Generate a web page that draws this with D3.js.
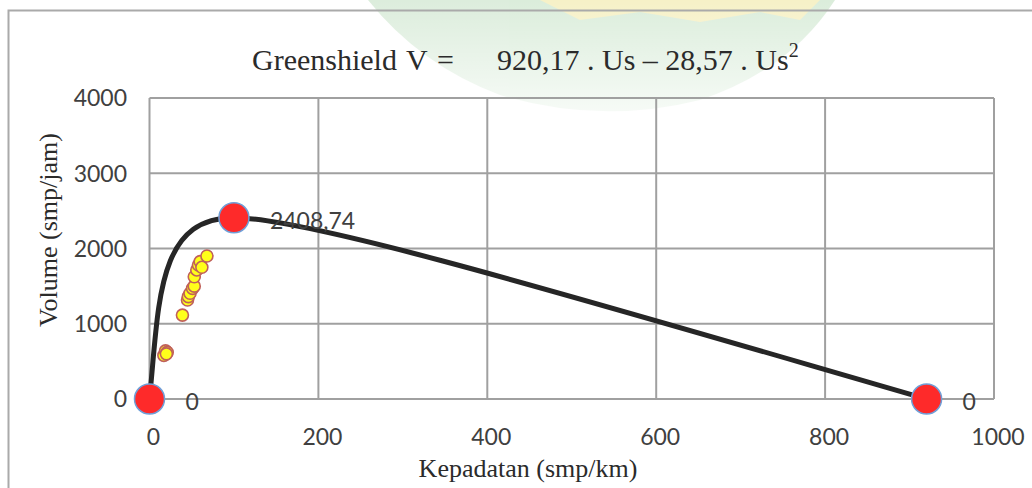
<!DOCTYPE html>
<html lang="en">
<head>
<meta charset="UTF-8">
<title>Greenshield</title>
<script src="https://cdn.jsdelivr.net/npm/d3@7"></script>
<style>
    body { margin: 0; background: #fff; }
    svg { display: block; }
    .tick-label { font-family: Lato, "Open Sans", sans-serif; font-size: 23px; fill: #404040; }
    .serif { font-family: "Liberation Serif", "Times New Roman", serif; fill: #2b2b2b; }
</style>
</head>
<body>
<svg id="chart" width="1032" height="488"></svg>
<script>
    // density (smp/km) / volume (smp/jam) for the fitted curve
    let curve_density = [0, 100, 920.17]
    let curve_volume = [0, 2408.74, 0]
    let curve_labels = ["0", "2408,74", "0"]

    let obs_density = [17, 19, 21, 20, 39, 45, 46, 48, 51, 53, 53, 56, 58, 60, 62, 68]
    let obs_volume = [580, 640, 620, 600, 1115, 1315, 1360, 1405, 1470, 1500, 1625, 1715, 1780, 1825, 1750, 1900]

    let x_ticks = [0, 200, 400, 600, 800, 1000]
    let y_ticks = [0, 1000, 2000, 3000, 4000]

    let svg = d3.select("#chart")

    // faint watermark behind the chart, fading downwards
    let grad = svg.append("defs").append("linearGradient")
        .attr("id", "fade").attr("x1", 0).attr("y1", 0).attr("x2", 0).attr("y2", 1)
    grad.append("stop").attr("offset", "0%").attr("stop-color", "#fff").attr("stop-opacity", 0)
    grad.append("stop").attr("offset", "100%").attr("stop-color", "#fff").attr("stop-opacity", 0.85)
    let wm = svg.append("g").attr("opacity", 0.3)
    wm.append("path")
        .attr("d", "M368,0 L835,0 Q790,70 700,100 Q600,125 500,95 Q420,65 368,0 Z")
        .style("fill", "#8cc48c")
    wm.append("path")
        .attr("d", "M540,0 L820,0 L800,20 L760,12 L700,22 L640,12 L580,20 Z")
        .style("fill", "#e3d24a")
    svg.append("rect").attr("x", 360).attr("y", 0).attr("width", 480).attr("height", 125)
        .style("fill", "url(#fade)")

    // outer chart border (runs off the right and bottom)
    svg.append("path")
        .attr("d", "M8.5,600 L8.5,10.5 L1100,10.5")
        .style("fill", "none").style("stroke", "#aaaaaa").style("stroke-width", 2)

    let x = d3.scaleLinear().domain([0, 1000]).range([149.5, 994])
    let y = d3.scaleLinear().domain([0, 4000]).range([399, 98])

    // grid
    svg.append("g").selectAll("line").data(y_ticks).join("line")
        .attr("x1", x(0)).attr("x2", x(1000))
        .attr("y1", d => y(d)).attr("y2", d => y(d))
        .style("stroke", "#a0a0a0").style("stroke-width", 2)
    svg.append("g").selectAll("line").data(x_ticks).join("line")
        .attr("x1", d => x(d)).attr("x2", d => x(d))
        .attr("y1", y(0)).attr("y2", y(4000))
        .style("stroke", "#a0a0a0").style("stroke-width", 2)

    // tick labels
    svg.append("g").selectAll("text").data(y_ticks).join("text")
        .attr("class", "tick-label")
        .attr("x", 127).attr("y", d => y(d)).attr("dy", "0.36em")
        .attr("text-anchor", "end")
        .text(d => d)
    svg.append("g").selectAll("text").data(x_ticks).join("text")
        .attr("class", "tick-label")
        .attr("x", d => x(d) + 4).attr("y", 445)
        .attr("text-anchor", "middle")
        .text(d => d)

    // observed points
    svg.append("g").selectAll("circle").data(obs_density).join("circle")
        .attr("cx", d => x(d)).attr("cy", (d, i) => y(obs_volume[i]))
        .attr("r", 6)
        .style("fill", "#ffff1a").style("stroke", "#c0605a").style("stroke-width", 1.6)

    // excel-like smoothed line: tangent along neighbours, end handles aim at the next handle
    function excelSmooth(context) {
        let pts = []
        return {
            areaStart() {}, areaEnd() {},
            lineStart() { pts = [] },
            point(px, py) { pts.push([+px, +py]) },
            lineEnd() {
                let n = pts.length
                if (!n) return
                context.moveTo(pts[0][0], pts[0][1])
                if (n < 3) { pts.slice(1).forEach(p => context.lineTo(p[0], p[1])); return }
                let hin = [], hout = []
                for (let i = 1; i < n - 1; i++) {
                    let tx = (pts[i + 1][0] - pts[i - 1][0]) * 0.1
                    let ty = (pts[i + 1][1] - pts[i - 1][1]) * 0.1
                    hin[i] = [pts[i][0] - tx, pts[i][1] - ty]
                    hout[i] = [pts[i][0] + tx, pts[i][1] + ty]
                }
                // end handle: mostly toward the neighbour handle, a little toward the neighbour point
                let endHandle = (p, h, q) => [
                    p[0] + (h[0] - p[0]) * 0.45 + (q[0] - p[0]) * 0.08,
                    p[1] + (h[1] - p[1]) * 0.45 + (q[1] - p[1]) * 0.08
                ]
                hout[0] = endHandle(pts[0], hin[1], pts[1])
                hin[n - 1] = endHandle(pts[n - 1], hout[n - 2], pts[n - 2])
                for (let i = 0; i < n - 1; i++) {
                    context.bezierCurveTo(hout[i][0], hout[i][1], hin[i + 1][0], hin[i + 1][1], pts[i + 1][0], pts[i + 1][1])
                }
            }
        }
    }

    let line = d3.line()
        .x(d => x(d))
        .y((d, i) => y(curve_volume[i]))
        .curve(excelSmooth)
    svg.append("path")
        .attr("d", line(curve_density))
        .style("fill", "none").style("stroke", "#262626").style("stroke-width", 5)
        .style("stroke-linecap", "round")

    // fitted points + labels
    svg.append("g").selectAll("circle").data(curve_density).join("circle")
        .attr("cx", d => x(d)).attr("cy", (d, i) => y(curve_volume[i]))
        .attr("r", 15)
        .style("fill", "#fe2a2a").style("stroke", "#6f9fd8").style("stroke-width", 1.5)
    svg.append("g").selectAll("text").data(curve_density).join("text")
        .attr("class", "tick-label")
        .attr("x", d => x(d) + 36).attr("y", (d, i) => y(curve_volume[i]) + 3).attr("dy", "0.36em")
        .text((d, i) => curve_labels[i])

    // title
    let title = svg.append("text").attr("class", "serif").attr("y", 70).style("font-size", "30px")
    title.append("tspan").attr("x", 252).text("Greenshield")
    title.append("tspan").attr("x", 406).text("V")
    title.append("tspan").attr("x", 437).text("=")
    title.append("tspan").attr("x", 497).text("920,17 . Us \u2013 28,57 . Us")
    title.append("tspan").attr("dy", -13).style("font-size", "20px").text("2")

    // axis titles
    svg.append("text").attr("class", "serif")
        .attr("x", 528).attr("y", 477).attr("text-anchor", "middle")
        .style("font-size", "26px")
        .text("Kepadatan (smp/km)")
    svg.append("text").attr("class", "serif")
        .attr("transform", "translate(57,230) rotate(-90)")
        .attr("text-anchor", "middle")
        .style("font-size", "26px")
        .text("Volume (smp/jam)")
</script>
</body>
</html>
